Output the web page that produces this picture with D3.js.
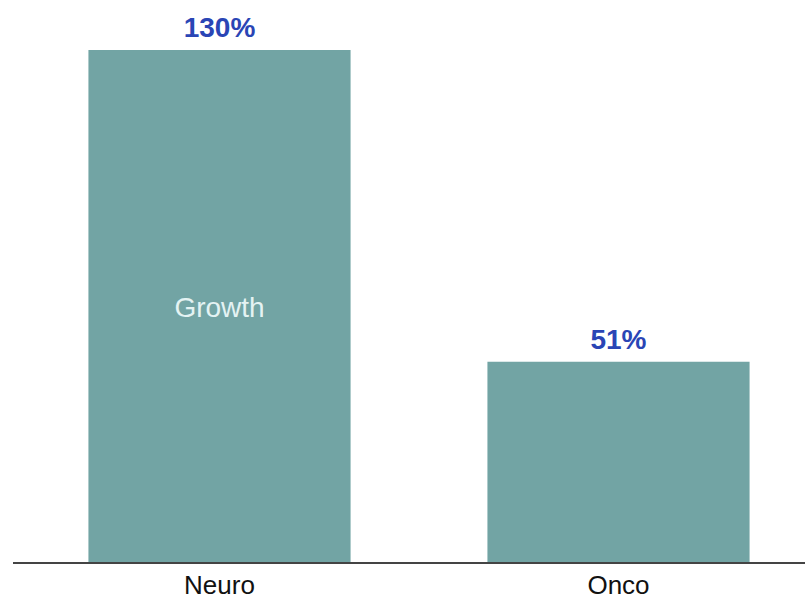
<!DOCTYPE html>
<html><head><meta charset="utf-8">
<script src="https://cdn.jsdelivr.net/npm/d3@7"></script>
<style>body{margin:0;background:#fff}svg{display:block}</style>
</head><body>
<svg id="c" width="805" height="600"></svg>
<script>
const categories = ["Neuro", "Onco"];
const values = [130, 51];
const valueLabels = ["130%", "51%"];
const innerLabel = "Growth";

const svg = d3.select("#c");
const font = "Arial, 'Liberation Sans', sans-serif";
const x = d3.scaleBand().domain(categories).range([20, 818]).paddingInner(0.343).paddingOuter(0.1715);
const y = d3.scaleLinear().domain([0, 130]).range([563, 50]);

svg.selectAll("rect.bar").data(categories).join("rect")
  .attr("class", "bar")
  .attr("x", d => x(d))
  .attr("width", x.bandwidth())
  .attr("y", (d, i) => y(values[i]))
  .attr("height", (d, i) => y(0) - y(values[i]))
  .attr("fill", "#72a4a4");

svg.selectAll("text.val").data(categories).join("text")
  .attr("class", "val")
  .attr("x", d => x(d) + x.bandwidth() / 2)
  .attr("y", (d, i) => y(values[i]) - 13)
  .attr("text-anchor", "middle")
  .attr("font-family", font)
  .attr("font-weight", "bold")
  .attr("font-size", 28)
  .attr("fill", "#2a45b5")
  .text((d, i) => valueLabels[i]);

svg.append("text")
  .attr("x", x(categories[0]) + x.bandwidth() / 2)
  .attr("y", 317)
  .attr("text-anchor", "middle")
  .attr("font-family", font)
  .attr("font-size", 28)
  .attr("fill", "#e4f3f3")
  .text(innerLabel);

const axis = d3.axisBottom(x).tickSize(0).tickPadding(0);
const g = svg.append("g").attr("transform", `translate(0,${y(0)})`).call(axis);
g.select(".domain").remove();
g.selectAll("text").attr("font-family", font).attr("font-size", 26).attr("fill", "#111")
  .attr("dy", null).attr("y", 31);

svg.append("line").attr("x1", 13).attr("x2", 805).attr("y1", y(0)).attr("y2", y(0))
  .attr("stroke", "#444").attr("stroke-width", 2);
</script>
</body></html>
